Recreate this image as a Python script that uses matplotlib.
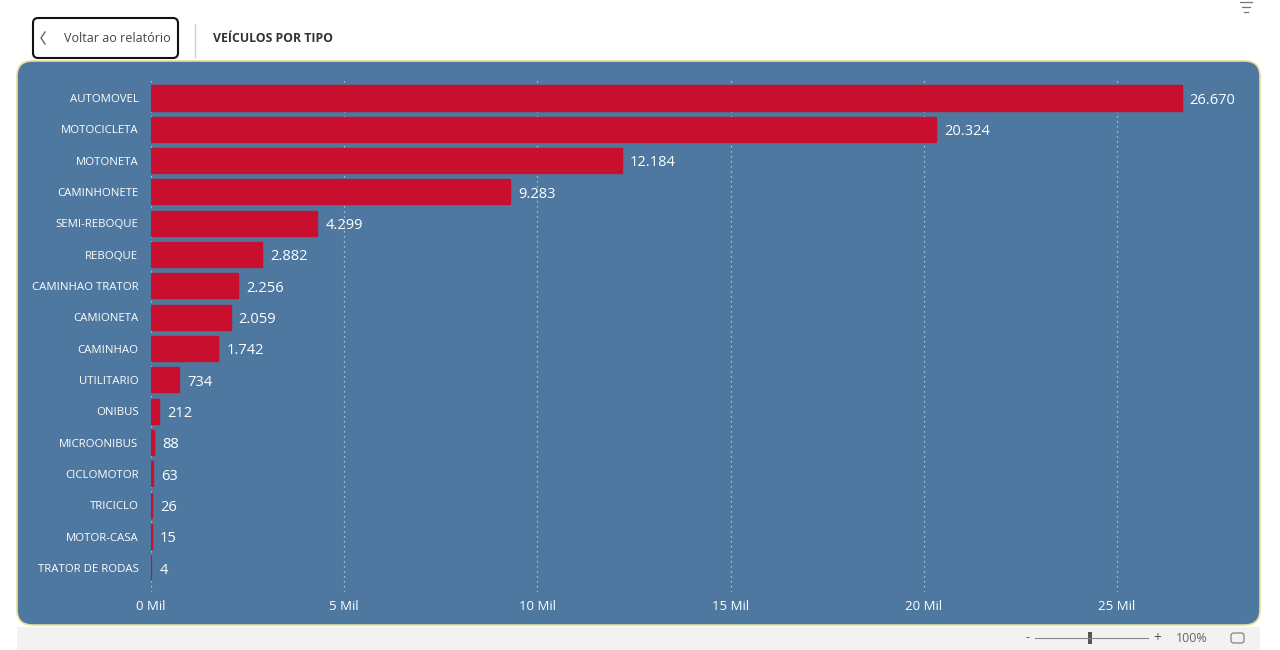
import matplotlib
matplotlib.use("Agg")
import matplotlib.pyplot as plt
from matplotlib.patches import FancyBboxPatch, Rectangle
from matplotlib.lines import Line2D

categories = ["AUTOMOVEL", "MOTOCICLETA", "MOTONETA", "CAMINHONETE", "SEMI-REBOQUE",
              "REBOQUE", "CAMINHAO TRATOR", "CAMIONETA", "CAMINHAO", "UTILITARIO",
              "ONIBUS", "MICROONIBUS", "CICLOMOTOR", "TRICICLO", "MOTOR-CASA",
              "TRATOR DE RODAS"]
values = [26670, 20324, 12184, 9283, 4299, 2882, 2256, 2059, 1742, 734,
          212, 88, 63, 26, 15, 4]
xticks = [0, 5000, 10000, 15000, 20000, 25000]
xticklabels = ["0 Mil", "5 Mil", "10 Mil", "15 Mil", "20 Mil", "25 Mil"]
title = "VEÍCULOS POR TIPO"
back_label = "Voltar ao relatório"

plt.rcParams['font.family'] = ['Open Sans', 'DejaVu Sans']

W, H = 1280, 650
fig = plt.figure(figsize=(W / 100, H / 100), dpi=100)
fig.patch.set_facecolor("white")

def fx(px):
    return px / W

def fy(py):
    return 1 - py / H

PANEL = "#4E78A0"
BAR = "#C8102E"

# Panel background
panel = FancyBboxPatch((fx(17), fy(625)), fx(1260) - fx(17), fy(61) - fy(625),
                       boxstyle="round,pad=0,rounding_size=0.012",
                       transform=fig.transFigure, facecolor=PANEL,
                       edgecolor="#E6DE9A", linewidth=1.2, zorder=-2,
                       mutation_aspect=W / H)
fig.patches.append(panel)

# Bottom grey strip
fig.patches.append(Rectangle((fx(17), fy(650)), fx(1260) - fx(17), fy(627) - fy(650),
                             transform=fig.transFigure, facecolor="#F2F2F2",
                             edgecolor="none", zorder=-2))

# Axes
ax = fig.add_axes([fx(151), fy(592), fx(1233) - fx(151), (592 - 77) / H])
ax.set_zorder(1)
ax.set_facecolor("none")
y = list(range(len(categories)))
ax.barh(y, values, height=0.8, color=BAR, edgecolor=BAR, linewidth=1.0, zorder=3)
ax.set_xlim(0, 28000)
ax.set_ylim(15.77, -0.67)
ax.set_yticks(y)
ax.set_yticklabels(categories, color="white", fontsize=8.2)
ax.set_xticks(xticks)
ax.set_xticklabels(xticklabels, color="white", fontsize=9.5)
ax.tick_params(axis="both", length=0)
ax.tick_params(axis="y", pad=9)
ax.tick_params(axis="x", pad=6)
for s in ax.spines.values():
    s.set_visible(False)
ax.xaxis.grid(True, linestyle=(0, (1, 3)), color="#C9D6E3", linewidth=0.9, zorder=1)
ax.set_axisbelow(True)

for yi, v in zip(y, values):
    ax.text(v + 210, yi + 0.07, f"{v:,}".replace(",", "."), va="center", ha="left",
            color="white", fontsize=10.5, zorder=4)

# Header: back button
fig.patches.append(FancyBboxPatch((fx(33), fy(58)), fx(178) - fx(33), fy(18) - fy(58),
                                  boxstyle="round,pad=0,rounding_size=0.004",
                                  transform=fig.transFigure, facecolor="white",
                                  edgecolor="#111111", linewidth=1.5,
                                  mutation_aspect=W / H))
fig.add_artist(Line2D([fx(45), fx(41), fx(45)], [fy(32), fy(38), fy(44)],
                      transform=fig.transFigure, color="#666666", linewidth=1.0))
fig.text(fx(64), fy(38.5), back_label, color="#444444", fontsize=9, va="center", ha="left")
fig.add_artist(Line2D([fx(195), fx(195)], [fy(24), fy(57)], transform=fig.transFigure,
                      color="#D0D0D0", linewidth=1))
fig.text(fx(213), fy(38), title, color="#333333", fontsize=8.8, fontweight="bold",
         va="center", ha="left")

# Filter icon
for w, yy in [(12, 2), (8, 7), (4, 12)]:
    fig.add_artist(Line2D([fx(1246 - w / 2), fx(1246 + w / 2)], [fy(yy), fy(yy)],
                          transform=fig.transFigure, color="#777777", linewidth=0.9))

# Zoom slider
fig.text(fx(1027), fy(638), "-", color="#555555", fontsize=9, va="center", ha="center")
fig.add_artist(Line2D([fx(1035), fx(1148)], [fy(638), fy(638)], transform=fig.transFigure,
                      color="#888888", linewidth=0.8))
fig.patches.append(Rectangle((fx(1088), fy(644)), fx(4), fy(632) - fy(644),
                             transform=fig.transFigure, facecolor="#555555",
                             edgecolor="none"))
fig.text(fx(1157), fy(638), "+", color="#555555", fontsize=10, va="center", ha="center")
fig.text(fx(1192), fy(638), "100%", color="#666666", fontsize=9, va="center", ha="center")
fig.patches.append(FancyBboxPatch((fx(1231), fy(643)), fx(13), fy(633) - fy(643),
                                  boxstyle="round,pad=0,rounding_size=0.002",
                                  transform=fig.transFigure, facecolor="none",
                                  edgecolor="#777777", linewidth=0.8,
                                  mutation_aspect=W / H))

fig.savefig("out.png", dpi=100, facecolor="white")
